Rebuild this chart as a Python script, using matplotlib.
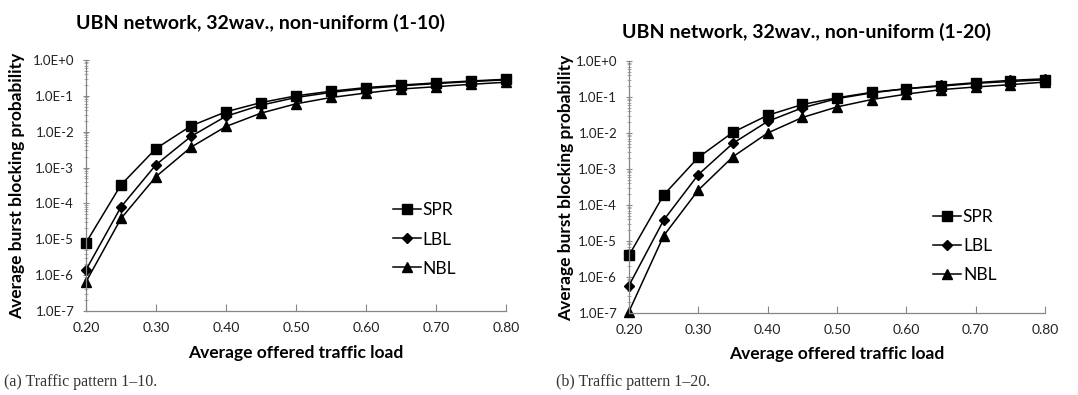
import numpy as np
import matplotlib
matplotlib.use('Agg')
from matplotlib import pyplot as plt
from matplotlib.ticker import FixedLocator, LogLocator, NullFormatter

load = [0.20, 0.25, 0.30, 0.35, 0.40, 0.45, 0.50, 0.55, 0.60, 0.65, 0.70, 0.75, 0.80]
x_ticks = [0.20, 0.30, 0.40, 0.50, 0.60, 0.70, 0.80]
x_labels = ['0.20', '0.30', '0.40', '0.50', '0.60', '0.70', '0.80']
y_ticks = [1e-7, 1e-6, 1e-5, 1e-4, 1e-3, 1e-2, 1e-1, 1e0]
y_labels = ['1.0E-7', '1.0E-6', '1.0E-5', '1.0E-4', '1.0E-3', '1.0E-2', '1.0E-1', '1.0E+0']

# pattern 1-10
spr_a = [8e-6, 3.3e-4, 3.4e-3, 1.45e-2, 3.6e-2, 6.5e-2, 0.10, 0.135, 0.17, 0.20, 0.23, 0.26, 0.29]
lbl_a = [1.4e-6, 8.0e-5, 1.2e-3, 7.4e-3, 2.7e-2, 5.5e-2, 0.09, 0.125, 0.16, 0.19, 0.22, 0.25, 0.28]
nbl_a = [6.5e-7, 3.8e-5, 5.6e-4, 3.7e-3, 1.4e-2, 3.3e-2, 0.06, 0.09, 0.12, 0.155, 0.18, 0.21, 0.24]

# pattern 1-20
spr_b = [4.0e-6, 1.9e-4, 2.1e-3, 1.05e-2, 3.1e-2, 6.2e-2, 0.095, 0.135, 0.17, 0.20, 0.24, 0.27, 0.30]
lbl_b = [5.8e-7, 3.8e-5, 7.0e-4, 5.2e-3, 2.1e-2, 5.0e-2, 0.09, 0.13, 0.17, 0.21, 0.25, 0.29, 0.32]
nbl_b = [1.1e-7, 1.4e-5, 2.6e-4, 2.2e-3, 1.0e-2, 2.7e-2, 0.053, 0.085, 0.12, 0.16, 0.19, 0.22, 0.26]

plt.rcParams['font.family'] = ['Lato', 'DejaVu Sans']

W, H = 1078, 395
fig = plt.figure(figsize=(W/100, H/100), dpi=100)

def px(l, t, r, b):
    return [l/W, 1-b/H, (r-l)/W, (b-t)/H]

def panel(rect, spr, lbl, nbl, title, caption, leg_xy, title_xy, xl_y, cap_x):
    ax = fig.add_axes(px(*rect))
    ax.plot(load, spr, color='black', lw=1.1, marker='s', ms=7, label='SPR', clip_on=False)
    ax.plot(load, lbl, color='black', lw=1.1, marker='D', ms=4.8, label='LBL', clip_on=False)
    ax.plot(load, nbl, color='black', lw=1.1, marker='^', ms=7, label='NBL', clip_on=False)
    ax.set_yscale('log')
    ax.set_xlim(0.2, 0.8)
    ax.set_ylim(1e-7, 1e0)
    ax.yaxis.set_major_locator(FixedLocator(y_ticks))
    ax.set_yticklabels(y_labels)
    ax.yaxis.set_minor_locator(LogLocator(base=10, subs=np.arange(2, 10)))
    ax.yaxis.set_minor_formatter(NullFormatter())
    ax.set_xticks(x_ticks)
    ax.set_xticklabels(x_labels)
    for s in ['top', 'right']:
        ax.spines[s].set_visible(False)
    for s in ['left', 'bottom']:
        ax.spines[s].set_color('#868686')
        ax.spines[s].set_linewidth(0.9)
    ax.tick_params(axis='y', which='major', direction='inout', length=5, color='#868686',
                   labelsize=9.5, labelcolor='#222222', pad=6)
    ax.tick_params(axis='y', which='minor', direction='inout', length=3, color='#a0a0a0')
    ax.tick_params(axis='x', direction='in', length=5, color='#868686', labelsize=10,
                   labelcolor='#222222', pad=8)
    ax.legend(loc='upper left', bbox_to_anchor=leg_xy, frameon=False, fontsize=12.5,
              handlelength=1.6, handletextpad=0.1, labelspacing=0.75, borderaxespad=0)
    fig.text(title_xy[0]/W, 1-title_xy[1]/H, title, fontsize=14, fontweight='bold',
             ha='center', va='center')
    fig.text((rect[0]+rect[2])/2/W, 1-xl_y/H, 'Average offered traffic load', fontsize=12.5,
             fontweight='bold', ha='center', va='center')
    fig.text(cap_x/W, 1-382/H, caption, fontsize=11.5, family='Liberation Serif',
             color='#333333', ha='left', va='center')
    return ax

a1 = panel((86, 60, 506, 311), spr_a, lbl_a, nbl_a,
           'UBN network, 32wav., non-uniform (1-10)', '(a) Traffic pattern 1\u201310.',
           (0.715, 0.46), (261, 23), 353, 4)
a2 = panel((629, 61, 1045, 313), spr_b, lbl_b, nbl_b,
           'UBN network, 32wav., non-uniform (1-20)', '(b) Traffic pattern 1\u201320.',
           (0.715, 0.44), (807, 32), 354, 556)

fig.text(17/W, 1-186/H, 'Average burst blocking probability', rotation=90, fontsize=12.5,
         fontweight='bold', ha='center', va='center')
fig.text(566/W, 1-188/H, 'Average burst blocking probability', rotation=90, fontsize=12.5,
         fontweight='bold', ha='center', va='center')

fig.savefig('out.png', dpi=100)
